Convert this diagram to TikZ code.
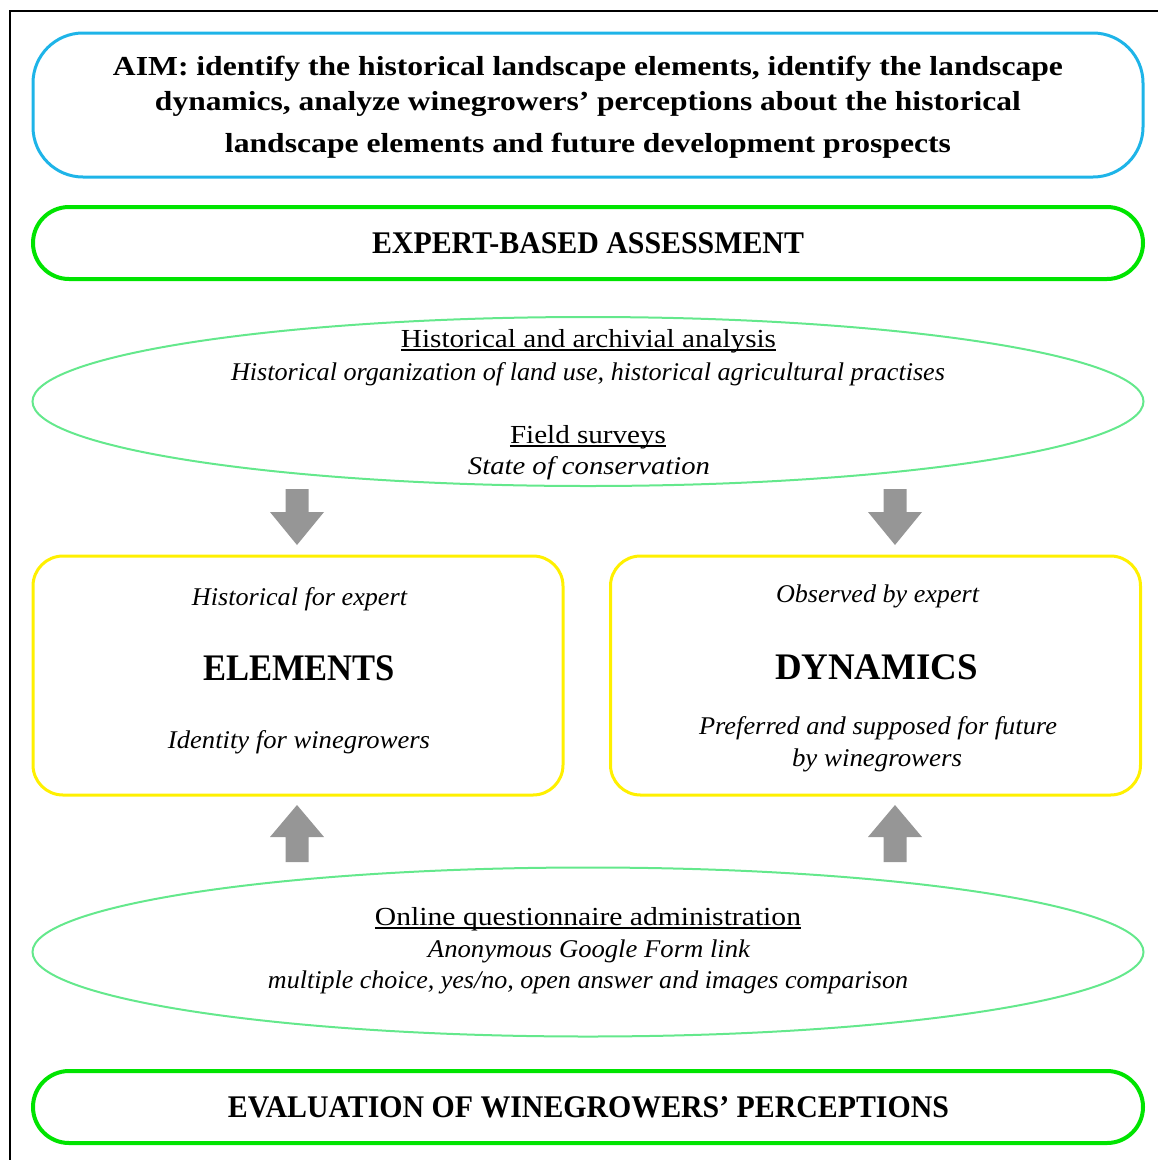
\documentclass[tikz,border=0pt]{standalone}
\usepackage{fontspec}
\setmainfont{Liberation Serif}
\usepackage{graphicx}
\usetikzlibrary{shapes.geometric}
\newcommand{\fitw}[2]{\resizebox{#1pt}{\height}{#2}}
\definecolor{aimblue}{RGB}{30,180,232}
\definecolor{boxgreen}{RGB}{0,228,0}
\definecolor{ovalgreen}{RGB}{100,232,140}
\definecolor{boxyellow}{RGB}{255,240,0}
\definecolor{arrowgray}{RGB}{150,150,150}
\tikzset{
  frameline/.style={black, line width=2pt},
  aimbox/.style={rectangle, draw=aimblue, line width=3pt, rounded corners=50pt, minimum width=1110pt, minimum height=144pt, inner sep=0pt},
  greenbox/.style={rectangle, draw=boxgreen, line width=4pt, rounded corners=36pt, minimum width=1110pt, minimum height=72pt, inner sep=0pt},
  oval/.style={ellipse, draw=ovalgreen, line width=2pt, minimum width=1111pt, minimum height=169pt, inner sep=0pt},
  yellowbox/.style={rectangle, draw=boxyellow, line width=3pt, rounded corners=30pt, minimum width=530pt, minimum height=239pt, inner sep=0pt},
  txt/.style={inner sep=0pt, anchor=base},
  boldbig/.style={font=\fontsize{27.5}{30}\selectfont\bfseries},
  boldhead/.style={font=\fontsize{31.5}{34}\selectfont\bfseries},
  boldkey/.style={font=\fontsize{37.5}{40}\selectfont\bfseries},
  plain/.style={font=\fontsize{26}{28}\selectfont},
  ital/.style={font=\fontsize{25.5}{28}\selectfont\itshape},
  ulline/.style={black, line width=1.2pt},
  darrow/.pic={\fill[arrowgray] (-11.5,0) -- (11.5,0) -- (11.5,23) -- (27,23) -- (0,56) -- (-27,23) -- (-11.5,23) -- cycle;},
  uarrow/.pic={\fill[arrowgray] (0,0) -- (27,32) -- (11.5,32) -- (11.5,57) -- (-11.5,57) -- (-11.5,32) -- (-27,32) -- cycle;}
}
\begin{document}
\begin{tikzpicture}[x=1pt,y=-1pt]
\useasboundingbox (0,0) rectangle (1158,1160);
\coordinate (fa) at (10,1160);
\coordinate (fb) at (10,11);
\coordinate (fc) at (1158,11);
\draw[frameline] (fa) -- (fb) -- (fc);

% boxes
\node[aimbox] (aim) at (588,105) {};
\node[greenbox] (expert) at (588,243) {};
\node[oval] (survey) at (588,401.5) {};
\node[yellowbox] (elements) at (298,675.5) {};
\node[yellowbox] (dynamics) at (875.5,675.5) {};
\node[oval] (quest) at (588,952) {};
\node[greenbox] (eval) at (588,1107) {};

% aim text
\node[txt,boldbig] (aim1) at (588,75) {\fitw{950}{AIM: identify the historical landscape elements, identify the landscape}};
\node[txt,boldbig] (aim2) at (588,110) {\fitw{866}{dynamics, analyze winegrowers’ perceptions about the historical}};
\node[txt,boldbig] (aim3) at (588,152) {\fitw{726}{landscape elements and future development prospects}};

\node[txt,boldhead] (expertt) at (588,253) {\fitw{432}{EXPERT-BASED ASSESSMENT}};
\node[txt,boldhead] (evalt) at (588.5,1117) {\fitw{721}{EVALUATION OF WINEGROWERS’ PERCEPTIONS}};

% upper oval
\node[txt,plain] (hist1) at (588.5,347) {\fitw{375}{Historical and archivial analysis}};
\draw[ulline] ([yshift=-3pt]hist1.base west) -- ([yshift=-3pt]hist1.base east);
\node[txt,ital] (hist2) at (588,380) {\fitw{714}{Historical organization of land use, historical agricultural practises}};
\node[txt,plain] (field1) at (588,443) {\fitw{156}{Field surveys}};
\draw[ulline] ([yshift=-3pt]field1.base west) -- ([yshift=-3pt]field1.base east);
\node[txt,ital] (field2) at (589,474) {\fitw{242}{State of conservation}};

% yellow boxes
\node[txt,ital] (el1) at (299.5,605) {\fitw{215}{Historical for expert}};
\node[txt,boldkey] (el2) at (299,680) {\fitw{192}{ELEMENTS}};
\node[txt,ital] (el3) at (299,748) {\fitw{262}{Identity for winegrowers}};
\node[txt,ital] (dy1) at (877.5,602) {\fitw{203}{Observed by expert}};
\node[txt,boldkey] (dy2) at (876.5,679) {\fitw{203}{DYNAMICS}};
\node[txt,ital] (dy3) at (878,734) {\fitw{358}{Preferred and supposed for future}};
\node[txt,ital] (dy4) at (877,766) {\fitw{170}{by winegrowers}};

% lower oval
\node[txt,plain] (q1) at (588,925) {\fitw{426}{Online questionnaire administration}};
\draw[ulline] ([yshift=-3pt]q1.base west) -- ([yshift=-3pt]q1.base east);
\node[txt,ital] (q2) at (589,957) {\fitw{322}{Anonymous Google Form link}};
\node[txt,ital] (q3) at (588,988) {\fitw{640}{multiple choice, yes/no, open answer and images comparison}};

% block arrows
\pic at (297,489) {darrow};
\pic at (895,489) {darrow};
\pic at (297,805) {uarrow};
\pic at (895,805) {uarrow};
\end{tikzpicture}
\end{document}
